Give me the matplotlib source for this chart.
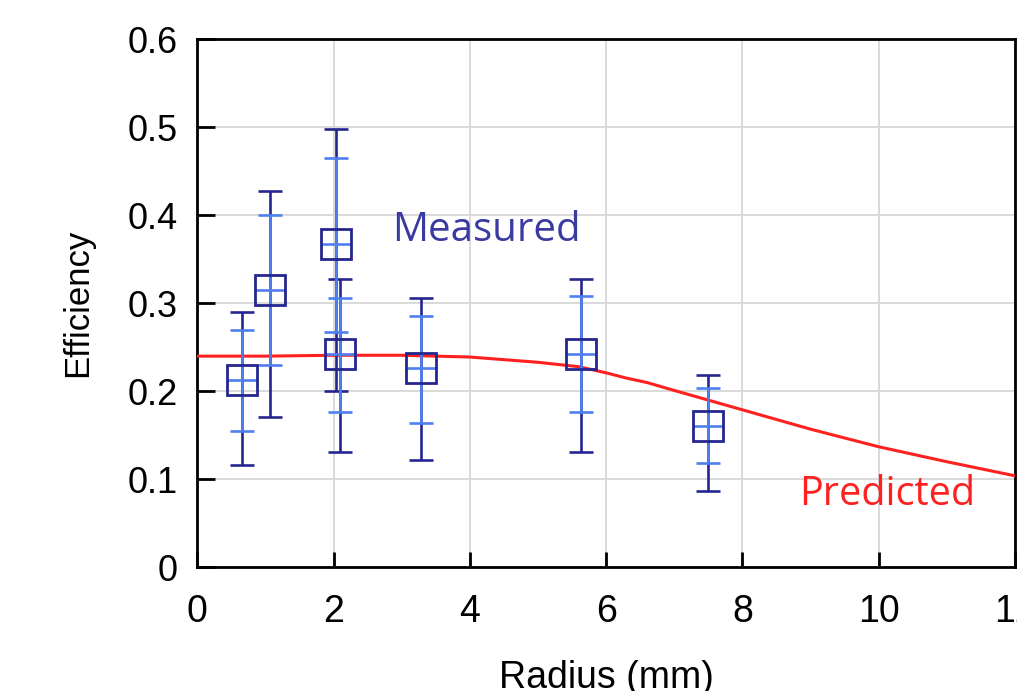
import numpy as np
import matplotlib.pyplot as plt

# measured points
radius = [0.65, 1.07, 2.03, 2.10, 3.28, 5.63, 7.50]
eff = [0.213, 0.315, 0.367, 0.242, 0.226, 0.243, 0.161]
outer_lo = [0.116, 0.171, 0.200, 0.131, 0.122, 0.131, 0.087]
outer_hi = [0.290, 0.428, 0.498, 0.328, 0.306, 0.328, 0.219]
inner_lo = [0.155, 0.230, 0.268, 0.176, 0.164, 0.177, 0.118]
inner_hi = [0.270, 0.400, 0.465, 0.306, 0.286, 0.308, 0.204]

# predicted curve
pred_r = [0, 1, 2, 3, 4, 4.5, 5, 5.6, 6, 6.3, 6.6, 7, 7.5, 8, 9, 10, 11, 12]
pred_eff = [0.240, 0.240, 0.241, 0.241, 0.239, 0.236, 0.233, 0.228, 0.221, 0.215,
            0.210, 0.201, 0.190, 0.179, 0.157, 0.137, 0.120, 0.104]

dark = '#25258f'
light = '#4f7ff0'
red = '#ff2020'

r = np.array(radius)
y = np.array(eff)

fig = plt.figure(figsize=(10.17, 6.91), dpi=100)
ax = fig.add_axes([0.194, 0.179, 0.804, 0.764])

ax.plot(pred_r, pred_eff, color=red, lw=2.2, zorder=3)

ax.errorbar(r, y, yerr=[y - np.array(outer_lo), np.array(outer_hi) - y], fmt='none',
            ecolor=dark, elinewidth=1.9, capsize=8.5, capthick=1.9, zorder=4)
ax.errorbar(r, y, yerr=[y - np.array(inner_lo), np.array(inner_hi) - y], fmt='none',
            ecolor=light, elinewidth=1.9, capsize=8.5, capthick=1.9, zorder=5)
ax.plot(r, y, ls='none', marker='_', ms=21, mew=1.9, color=light, zorder=6)
ax.plot(r, y, ls='none', marker='s', ms=21, mfc='none', mec=dark, mew=2.0, zorder=7)

ax.text(4.25, 0.383, 'Measured', color='#3a3aa0', fontsize=29, family='Open Sans',
        ha='center', va='center')
ax.text(10.12, 0.083, 'Predicted', color=red, fontsize=28.5, family='Open Sans',
        ha='center', va='center')

ax.set_xlim(0, 12)
ax.set_ylim(0, 0.6)
ax.set_xticks([0, 2, 4, 6, 8, 10, 12])
ax.set_yticks([0, 0.1, 0.2, 0.3, 0.4, 0.5, 0.6])
ax.set_yticklabels(['0', '0.1', '0.2', '0.3', '0.4', '0.5', '0.6'])
ax.grid(True, color='#d9d9d9', lw=1.4)
ax.set_axisbelow(True)
for s in ax.spines.values():
    s.set_linewidth(2.0)
ax.tick_params(direction='in', length=12, width=2.0, pad=14)
ax.tick_params(axis='y', labelsize=26, length=13)
ax.tick_params(axis='x', labelsize=27, pad=19, length=11)
for lab in ax.get_xticklabels() + ax.get_yticklabels():
    lab.set_family('Liberation Sans')

ax.set_xlabel('Radius (mm)', fontsize=27, family='Liberation Sans', labelpad=22)
ax.set_ylabel('Efficiency', fontsize=25, family='Liberation Sans', labelpad=24)

fig.savefig('out.png', dpi=100)
